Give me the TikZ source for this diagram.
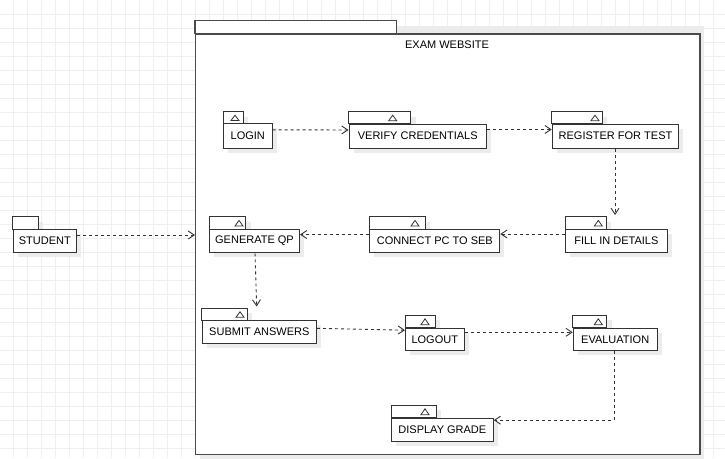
\documentclass[tikz,border=0pt]{standalone}
\usepackage{fontspec}
\setmainfont{Liberation Sans}
\usetikzlibrary{arrows.meta}
\definecolor{gridcol}{HTML}{EFEFEF}
\definecolor{shadowcol}{HTML}{ECECEC}
\definecolor{framecol}{HTML}{4A4A4A}
\definecolor{inkcol}{HTML}{333333}
\definecolor{textcol}{HTML}{000000}

% #1 name, #2 left x, #3 body top y, #4 width, #5 height,
% #6 tab width, #7 tab height, #8 triangle centre offset (empty = none), #9 label
\newcommand\umlpkg[9]{%
  \fill[shadowcol] (#2+5,#3+5) rectangle ++(#4,#5);
  \fill[shadowcol] (#2+5,#3-#7+5) rectangle ++(#6,#7);
  \draw[pkgtab] (#2,#3) rectangle ++(#6,-#7);
  \node[pkgbody, minimum width=#4pt, minimum height=#5pt, anchor=north west] (#1) at (#2,#3) {#9};
  \if\relax\detokenize{#8}\relax\else
    \draw[pkgtri] (#2+#8-4,#3-0.24*#7) -- (#2+#8+4,#3-0.24*#7) -- (#2+#8,#3-0.7*#7) -- cycle;
  \fi
}

\tikzset{
  gridline/.style={draw=gridcol, line width=1pt},
  pkgbody/.style={draw=inkcol, fill=white, line width=1pt, inner sep=0pt,
    text=textcol, font=\fontsize{11}{13}\selectfont},
  pkgtab/.style={draw=inkcol, fill=white, line width=1pt},
  pkgtri/.style={draw=inkcol, line width=0.8pt},
  dep/.style={draw=inkcol, line width=0.9pt, dash pattern=on 3pt off 3pt,
    -{Straight Barb[length=6pt, width=8pt]}},
  framebox/.style={draw=framecol, fill=white, line width=1.3pt},
}

\begin{document}
\begin{tikzpicture}[x=1pt, y=-1pt]
\useasboundingbox (0,0) rectangle (725,458);
\fill[white] (0,0) rectangle (725,458);

% background grid
\foreach \i in {1,...,52} \draw[gridline] (14*\i-0.7,0) -- (14*\i-0.7,458);
\foreach \j in {1,...,32} \draw[gridline] (0,14*\j) -- (725,14*\j);

% outer package
\fill[shadowcol] (200,26) rectangle (704.3,459);
\draw[framebox] (195,20.7) rectangle (396.7,33.3);
\node[framebox, minimum width=504.3pt, minimum height=420.7pt, anchor=north west, inner sep=0pt] (web) at (195,33.3) {};
\node[text=textcol, font=\fontsize{11}{13}\selectfont] (webtitle) at (447,45) {EXAM WEBSITE};

% packages
\umlpkg{login}{223}{123.3}{48.5}{24.5}{20}{11.6}{12}{LOGIN}
\umlpkg{verify}{348.5}{123.5}{137.5}{24.3}{62}{11.8}{44.2}{VERIFY CREDENTIALS}
\umlpkg{register}{551.7}{123.5}{126.6}{24}{50.6}{11.8}{43.3}{REGISTER FOR TEST}

\umlpkg{student}{12.7}{229}{63.3}{23.3}{25.6}{12.3}{}{STUDENT}
\umlpkg{genqp}{209}{229}{90}{23.3}{36.7}{12.3}{30}{GENERATE QP}
\umlpkg{connect}{369.3}{229}{130}{23}{55.7}{12.3}{45.7}{CONNECT PC TO SEB}
\umlpkg{fill}{565}{229}{101.7}{23}{41}{12.3}{33.3}{FILL IN DETAILS}

\umlpkg{submit}{201.7}{320}{114.3}{22.7}{45.6}{11.7}{38.3}{SUBMIT ANSWERS}
\umlpkg{logout}{405}{327.7}{58.5}{22.3}{30}{12.7}{20}{LOGOUT}
\umlpkg{eval}{572.7}{327.7}{84}{22.3}{34}{12.7}{25.6}{EVALUATION}

\umlpkg{display}{391}{417.7}{101.7}{23.3}{45}{12.7}{34}{DISPLAY GRADE}

% dependencies
\draw[dep] ([yshift=-6.5pt]login.north east) -- ([yshift=-6.5pt]verify.north west);
\draw[dep] ([yshift=-6pt]verify.north east) -- ([yshift=-6pt]register.north west);
\coordinate (regdown) at ([xshift=50pt,yshift=14pt]fill.north west);
\draw[dep] ([xshift=63.3pt]register.south west) -- (regdown);
\draw[dep] ([yshift=-5pt]fill.north west) -- ([yshift=-5pt]connect.north east);
\draw[dep] ([yshift=-5.5pt]connect.north west) -- ([yshift=-5.5pt]genqp.north east);
\coordinate (stud) at ([yshift=-6pt]student.north east);
\draw[dep] (stud) -- (stud -| web.west);
\coordinate (subin) at ([xshift=55pt,yshift=13.5pt]submit.north west);
\draw[dep] ([xshift=46pt]genqp.south west) -- (subin);
\draw[dep] ([yshift=-8.3pt]submit.north east) -- ([yshift=-2.5pt]logout.north west);
\draw[dep] ([yshift=-4.6pt]logout.north east) -- ([yshift=-4.6pt]eval.north west);
\draw[dep] ([xshift=41.3pt]eval.south west) |- ([yshift=-2.5pt]display.north east);
\end{tikzpicture}
\end{document}
